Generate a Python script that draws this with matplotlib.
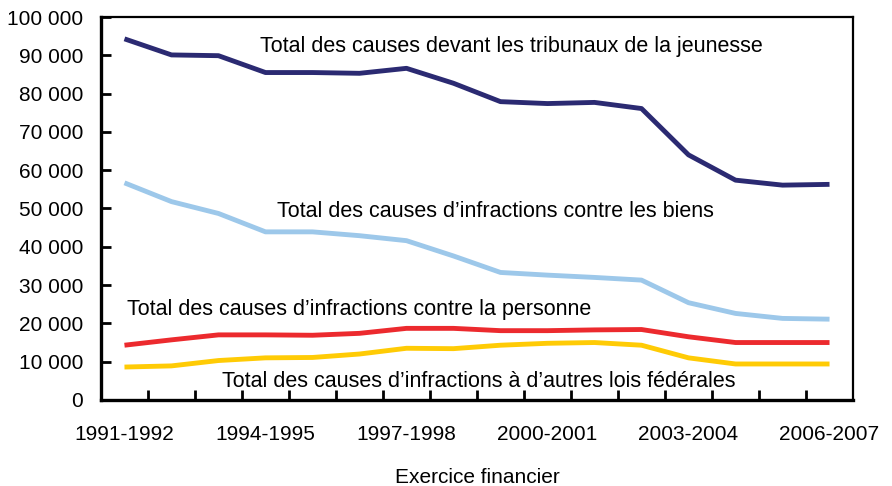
import numpy as np
import matplotlib
matplotlib.use("Agg")
import matplotlib.pyplot as plt
from matplotlib.ticker import FuncFormatter

plt.rcParams['font.family'] = ['Liberation Sans', 'DejaVu Sans']

years = ['1991-1992', '1992-1993', '1993-1994', '1994-1995', '1995-1996',
         '1996-1997', '1997-1998', '1998-1999', '1999-2000', '2000-2001',
         '2001-2002', '2002-2003', '2003-2004', '2004-2005', '2005-2006',
         '2006-2007']

total_jeunesse = [94300, 90100, 89900, 85500, 85500, 85300, 86600, 82700,
                  77900, 77400, 77700, 76100, 64000, 57400, 56100, 56300]
biens = [56700, 51800, 48700, 43900, 43900, 42900, 41600, 37600,
         33300, 32600, 32000, 31300, 25400, 22600, 21300, 21100]
personne = [14300, 15700, 17000, 17000, 16900, 17400, 18700, 18700,
            18100, 18100, 18300, 18400, 16500, 15000, 15000, 15000]
autres_lois = [8600, 8900, 10300, 11000, 11100, 12000, 13500, 13400,
               14300, 14800, 15000, 14300, 11000, 9400, 9400, 9400]

labels = ['Total des causes devant les tribunaux de la jeunesse',
          'Total des causes d\u2019infractions contre les biens',
          'Total des causes d\u2019infractions contre la personne',
          'Total des causes d\u2019infractions \u00e0 d\u2019autres lois f\u00e9d\u00e9rales']

fig = plt.figure(figsize=(8.92, 4.86), dpi=100)
ax = fig.add_axes([0.1132, 0.177, 0.8431, 0.788])

x = np.arange(len(years))
ax.plot(x, total_jeunesse, color='#2b2a72', lw=3.5, solid_capstyle='butt')
ax.plot(x, biens, color='#9dc8ea', lw=3.5, solid_capstyle='butt')
ax.plot(x, personne, color='#ec2a2e', lw=3.5, solid_capstyle='butt')
ax.plot(x, autres_lois, color='#ffcb05', lw=3.5, solid_capstyle='butt')

fs = 15.5
ax.text(2.88, 92400, labels[0], fontsize=fs, va='center', ha='left')
ax.text(3.24, 49300, labels[1], fontsize=fs, va='center', ha='left')
ax.text(0.05, 23500, labels[2], fontsize=fs, va='center', ha='left')
ax.text(2.07, 4800, labels[3], fontsize=fs, va='center', ha='left')

ax.set_xlim(-0.5, len(years) - 0.5)
ax.set_ylim(0, 100000)
ax.set_yticks(np.arange(0, 100001, 10000))
ax.yaxis.set_major_formatter(FuncFormatter(lambda v, p: '{:,}'.format(int(v)).replace(',', ' ')))

ax.set_xticks(x[::3])
ax.set_xticklabels(years[::3])
ax.set_xticks(np.arange(0.5, len(years) - 1, 1.0), minor=True)
ax.tick_params(axis='x', which='major', length=0, pad=18, labelsize=15)
ax.tick_params(axis='x', which='minor', direction='in', length=7, width=2)
ax.tick_params(axis='y', direction='in', length=7, width=2, pad=13, labelsize=15)

for side in ['left', 'bottom']:
    ax.spines[side].set_linewidth(2.4)
for side in ['top', 'right']:
    ax.spines[side].set_linewidth(1.6)

ax.set_xlabel('Exercice financier', fontsize=15, labelpad=17)

fig.savefig('out.png', dpi=100)
